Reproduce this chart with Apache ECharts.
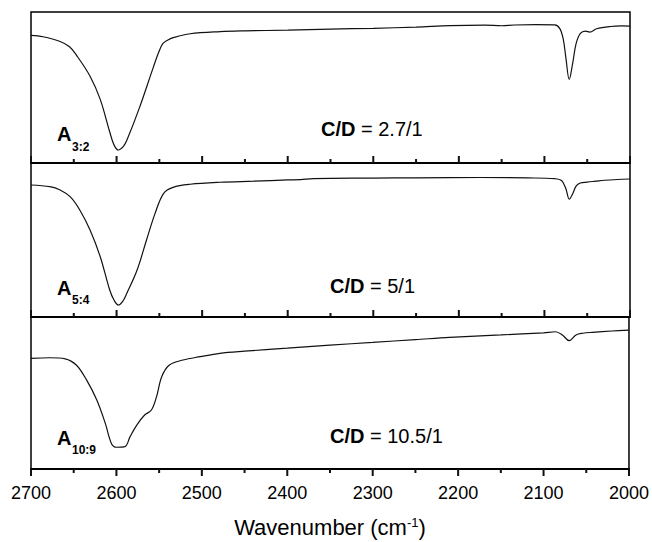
<!DOCTYPE html>
<html>
<head>
<meta charset="utf-8">
<script src="https://cdn.jsdelivr.net/npm/echarts@6/dist/echarts.min.js"></script>
<style>
  html, body { margin: 0; padding: 0; background: #fff; }
  #wrap { position: relative; width: 652px; height: 542px; background: #fff; }
  .panel { position: absolute; left: 0; top: 0; width: 652px; height: 542px; }
</style>
</head>
<body>
<div id="wrap">
  <div id="p3" class="panel"></div>
  <div id="p2" class="panel"></div>
  <div id="p1" class="panel"></div>
</div>
<script>
// IR spectra, O-D stretch region, three samples stacked (relative transmittance, %)
const xTicks = [2700, 2600, 2500, 2400, 2300, 2200, 2100, 2000];

const wn1 = [2700, 2686, 2666, 2655, 2647, 2631, 2619, 2608, 2603, 2598, 2592, 2588, 2573, 2557, 2551, 2546, 2540, 2534, 2514, 2479, 2450, 2400, 2350, 2300, 2250, 2210, 2170, 2150, 2135, 2110, 2088, 2082, 2078, 2075, 2071, 2067, 2063, 2058, 2052, 2047, 2039, 2023, 2010, 2000];
const t1  = [84.5, 83.6, 80.5, 77.0, 71.5, 57.5, 42.0, 20.5, 12.0, 8.6, 11.0, 15.0, 37.0, 63.5, 73.0, 79.0, 81.5, 83.0, 85.6, 87.0, 87.5, 88.0, 88.7, 89.2, 90.0, 91.0, 91.3, 90.9, 91.4, 91.6, 91.5, 89.0, 82.0, 70.0, 55.3, 66.0, 79.0, 85.8, 87.3, 86.7, 88.9, 90.4, 90.8, 90.6];

const wn2 = [2700, 2678, 2666, 2654, 2643, 2631, 2619, 2608, 2603, 2598, 2593, 2588, 2576, 2565, 2555, 2545, 2534, 2514, 2479, 2440, 2400, 2385, 2370, 2300, 2250, 2175, 2120, 2088, 2080, 2075, 2071, 2067, 2063, 2058, 2050, 2040, 2030, 2015, 2000];
const t2  = [85.7, 84.6, 82.5, 78.0, 69.5, 56.5, 39.0, 17.5, 11.0, 7.8, 10.0, 15.4, 30.5, 50.0, 67.3, 80.3, 84.2, 86.2, 87.5, 88.2, 89.0, 89.2, 89.9, 90.2, 90.4, 90.6, 90.3, 89.8, 88.6, 83.5, 76.5, 80.0, 85.0, 87.0, 87.6, 88.2, 88.8, 89.3, 89.6];

const wn3 = [2700, 2678, 2660, 2647, 2635, 2623, 2613, 2606, 2600, 2590, 2584, 2576, 2567, 2559, 2553, 2547, 2538, 2522, 2502, 2479, 2450, 2400, 2350, 2300, 2250, 2210, 2150, 2100, 2086, 2078, 2070, 2062, 2054, 2043, 2020, 2000];
const t3  = [72.8, 73.2, 72.5, 68.4, 58.6, 45.4, 30.0, 17.0, 14.3, 14.7, 21.3, 29.0, 35.5, 38.8, 47.6, 60.7, 68.4, 71.7, 73.9, 76.1, 77.5, 79.5, 81.5, 83.3, 85.1, 86.6, 88.2, 89.6, 90.3, 88.2, 84.4, 88.2, 89.3, 89.9, 90.8, 91.4];

const sampleNames = ['3:2', '5:4', '10:9'];
const ratioTexts = ['2.7/1', '5/1', '10.5/1'];

const FONT = '"Liberation Sans", Arial, Helvetica, sans-serif';

const spectra = [[wn1, t1], [wn2, t2], [wn3, t3]];
const panelIds = ['p1', 'p2', 'p3'];
const gridBoxes = [
  { left: 31, right: 22, top: 12, height: 151 },
  { left: 31, right: 22, top: 163, height: 154 },
  { left: 31, right: 22, top: 317, height: 152 }
];
// Sample labels (A with subscript) and C/D ratio captions per panel
const labelRows = [
  { aY: 135, subY: 147.5, cdX: 321, cdY: 130 },
  { aY: 289, subY: 300.5, cdX: 330, cdY: 287 },
  { aY: 439, subY: 450.5, cdX: 330, cdY: 437 }
];

// Tick marks along the wavenumber axis: major at each labelled value, minor halfway between
const majorTicks = xTicks.slice();
const minorTicks = xTicks.slice(1).map((v, k) => (v + xTicks[k]) / 2);
const MAJOR_LEN = 7, MINOR_LEN = 4; // px

// Short vertical strokes at each tick value, broken apart by empty points
function tickSeries(i) {
  const last = i === gridBoxes.length - 1;
  const unitPerPx = 100 / gridBoxes[i].height;
  const dir = last ? -1 : 1;
  const data = [];
  majorTicks.forEach(v => { data.push([v, 0], [v, dir * MAJOR_LEN * unitPerPx], [v, '-']); });
  minorTicks.forEach(v => { data.push([v, 0], [v, dir * MINOR_LEN * unitPerPx], [v, '-']); });
  return {
    type: 'line', data: data, showSymbol: false, smooth: false, connectNulls: false,
    clip: false, silent: true, z: 4,
    lineStyle: { color: '#111', width: 2, cap: 'butt' }
  };
}

function panelOption(i) {
  const last = i === gridBoxes.length - 1;
  const [wn, t] = spectra[i];
  const r = labelRows[i];
  return {
    animation: false,
    backgroundColor: last ? '#fff' : 'transparent',
    grid: Object.assign({
      show: true, borderColor: '#000', borderWidth: 1.5, backgroundColor: 'transparent'
    }, gridBoxes[i]),
    xAxis: {
      type: 'value', inverse: true,
      min: xTicks[xTicks.length - 1], max: xTicks[0], interval: 100,
      axisLine: { show: true, lineStyle: { color: '#000', width: 2 } },
      axisTick: { show: false },
      splitLine: { show: false },
      axisLabel: {
        show: last, color: '#000', fontSize: 18, fontFamily: FONT, margin: 15,
        formatter: v => String(v)
      },
      name: last ? 'Wavenumber (cm{sup|-1})' : '',
      nameLocation: 'middle', nameGap: 47,
      nameTextStyle: {
        color: '#000', fontSize: 22, fontFamily: FONT,
        rich: { sup: { fontSize: 13, fontFamily: FONT, color: '#000', verticalAlign: 'top', lineHeight: 13 } }
      }
    },
    yAxis: { type: 'value', min: 0, max: 100, show: false },
    series: [
      {
        type: 'line',
        data: wn.map((w, k) => [w, t[k]]),
        showSymbol: false, smooth: 0.35, silent: true,
        lineStyle: { color: '#111', width: 1.2 }
      },
      tickSeries(i)
    ],
    graphic: [
      {
        type: 'text', left: 57, top: r.aY - 11, silent: true,
        style: { text: 'A', fill: '#000', font: 'bold 20px ' + FONT }
      },
      {
        type: 'text', left: 72, top: r.subY - 7, silent: true,
        style: { text: sampleNames[i], fill: '#000', font: 'bold 12px ' + FONT }
      },
      {
        type: 'text', left: r.cdX, top: r.cdY - 11, silent: true,
        style: {
          text: '{b|C/D}{r| = ' + ratioTexts[i] + '}',
          rich: {
            b: { fontSize: 20, fontWeight: 'bold', fontFamily: FONT, fill: '#000', color: '#000' },
            r: { fontSize: 20, fontFamily: FONT, fill: '#000', color: '#000' }
          }
        }
      }
    ]
  };
}

panelIds.forEach((id, i) => {
  const chart = echarts.init(document.getElementById(id), null, { renderer: 'svg' });
  chart.setOption(panelOption(i));
});
</script>
</body>
</html>
